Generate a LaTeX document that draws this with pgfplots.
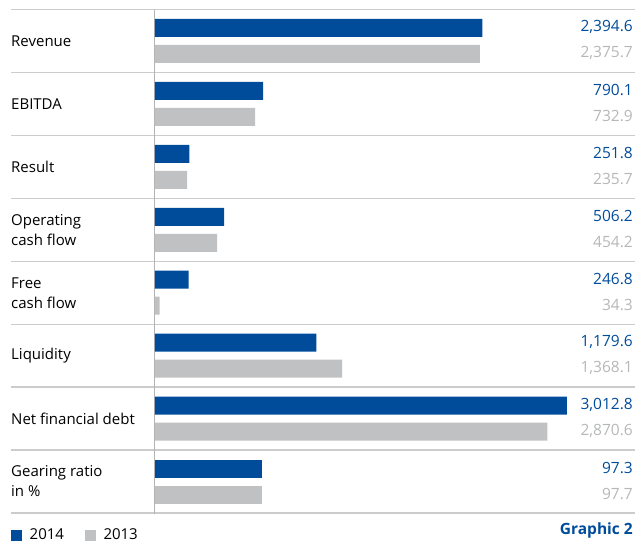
\documentclass[border=0pt]{standalone}
\usepackage{pgfplots}
\pgfplotsset{compat=1.18}
\usepackage{pgfplotstable}
\usepackage{fontspec}
\setmainfont{Open Sans}
\definecolor{cblue}{RGB}{0,76,155}
\definecolor{cgray}{RGB}{192,193,195}
\definecolor{tgray}{RGB}{182,183,185}
\definecolor{lgray}{RGB}{204,204,204}
\definecolor{vgray}{RGB}{180,180,180}

\pgfplotstableread{
pos v14 v13
7.5 2394.6 2375.7
6.5 790.1 732.9
5.5 251.8 235.7
4.5 506.2 454.2
3.5 246.8 34.3
2.5 1179.6 1368.1
1.5 3012.8 2870.6
}\maindata

\pgfplotstableread{
pos v14 v13
0.5 97.3 97.7
}\gearing

\begin{document}
\begin{tikzpicture}[x=1pt,y=1pt,font=\fontsize{15}{20}\selectfont]
\useasboundingbox (0,0) rectangle (635,542);
\foreach \j in {0,...,8}
  \draw[lgray, line width=1.3pt] (11,{29+62.9375*\j}) -- (635,{29+62.9375*\j});
\draw[vgray, line width=0.8pt] (154.5,28) -- (154.5,531.5);

\pgfplotsset{rowaxis/.style={
  at={(155pt,29pt)}, anchor=south west, scale only axis,
  width=480pt, height=503.5pt, ymin=0, ymax=8, xmin=0,
  axis lines=none, xbar, bar width=18pt, clip=false}}

\begin{axis}[rowaxis, xmax=3511,
  legend style={at={(axis description cs:-0.3,-0.0437)}, anchor=west,
    draw=none, fill=none, inner sep=0pt, legend columns=2,
    font=\fontsize{15}{20}\selectfont,
    nodes={inner sep=0pt, anchor=base west},
    /tikz/every even column/.append style={column sep=21pt}},
  legend image code/.code={\path[#1,draw=none] (0pt,-1pt) rectangle (10.5pt,10pt); \path (18.5pt,0pt);}]
\addplot[fill=cblue, draw=none, bar shift=13pt] table[x=v14,y=pos]{\maindata};
\addplot[fill=cgray, draw=none, bar shift=-13pt] table[x=v13,y=pos]{\maindata};
\legend{2014,2013}
\end{axis}

\begin{axis}[rowaxis, xmax=436.5]
\addplot[fill=cblue, draw=none, bar shift=13pt] table[x=v14,y=pos]{\gearing};
\addplot[fill=cgray, draw=none, bar shift=-13pt] table[x=v13,y=pos]{\gearing};
\end{axis}

% category labels
\foreach \k/\lab in {0/Revenue,1/EBITDA,2/Result,3/{Operating\\cash flow},4/{Free\\cash flow},5/Liquidity,6/Net financial debt,7/{Gearing ratio\\in \%}}
  \node[anchor=west, align=left, inner sep=0pt] at (11,{29+62.9375*(7.5-\k)}) {\lab};

% value labels
\foreach \k/\a/\b in {0/{2,394.6}/{2,375.7},1/790.1/732.9,2/251.8/235.7,3/506.2/454.2,4/246.8/34.3,5/{1,179.6}/{1,368.1},6/{3,012.8}/{2,870.6},7/97.3/97.7}{
  \node[anchor=east, inner sep=0pt, text=cblue, font=\fontsize{15.5}{20}\selectfont] at (633,{29+62.9375*(7.5-\k)+14}) {\a};
  \node[anchor=east, inner sep=0pt, text=tgray, font=\fontsize{15.5}{20}\selectfont] at (633,{29+62.9375*(7.5-\k)-12}) {\b};
}
\node[anchor=base east, inner sep=0pt, text=cblue, font=\fontsize{15.5}{20}\selectfont\bfseries] at (633,8) {Graphic 2};
\end{tikzpicture}
\end{document}
